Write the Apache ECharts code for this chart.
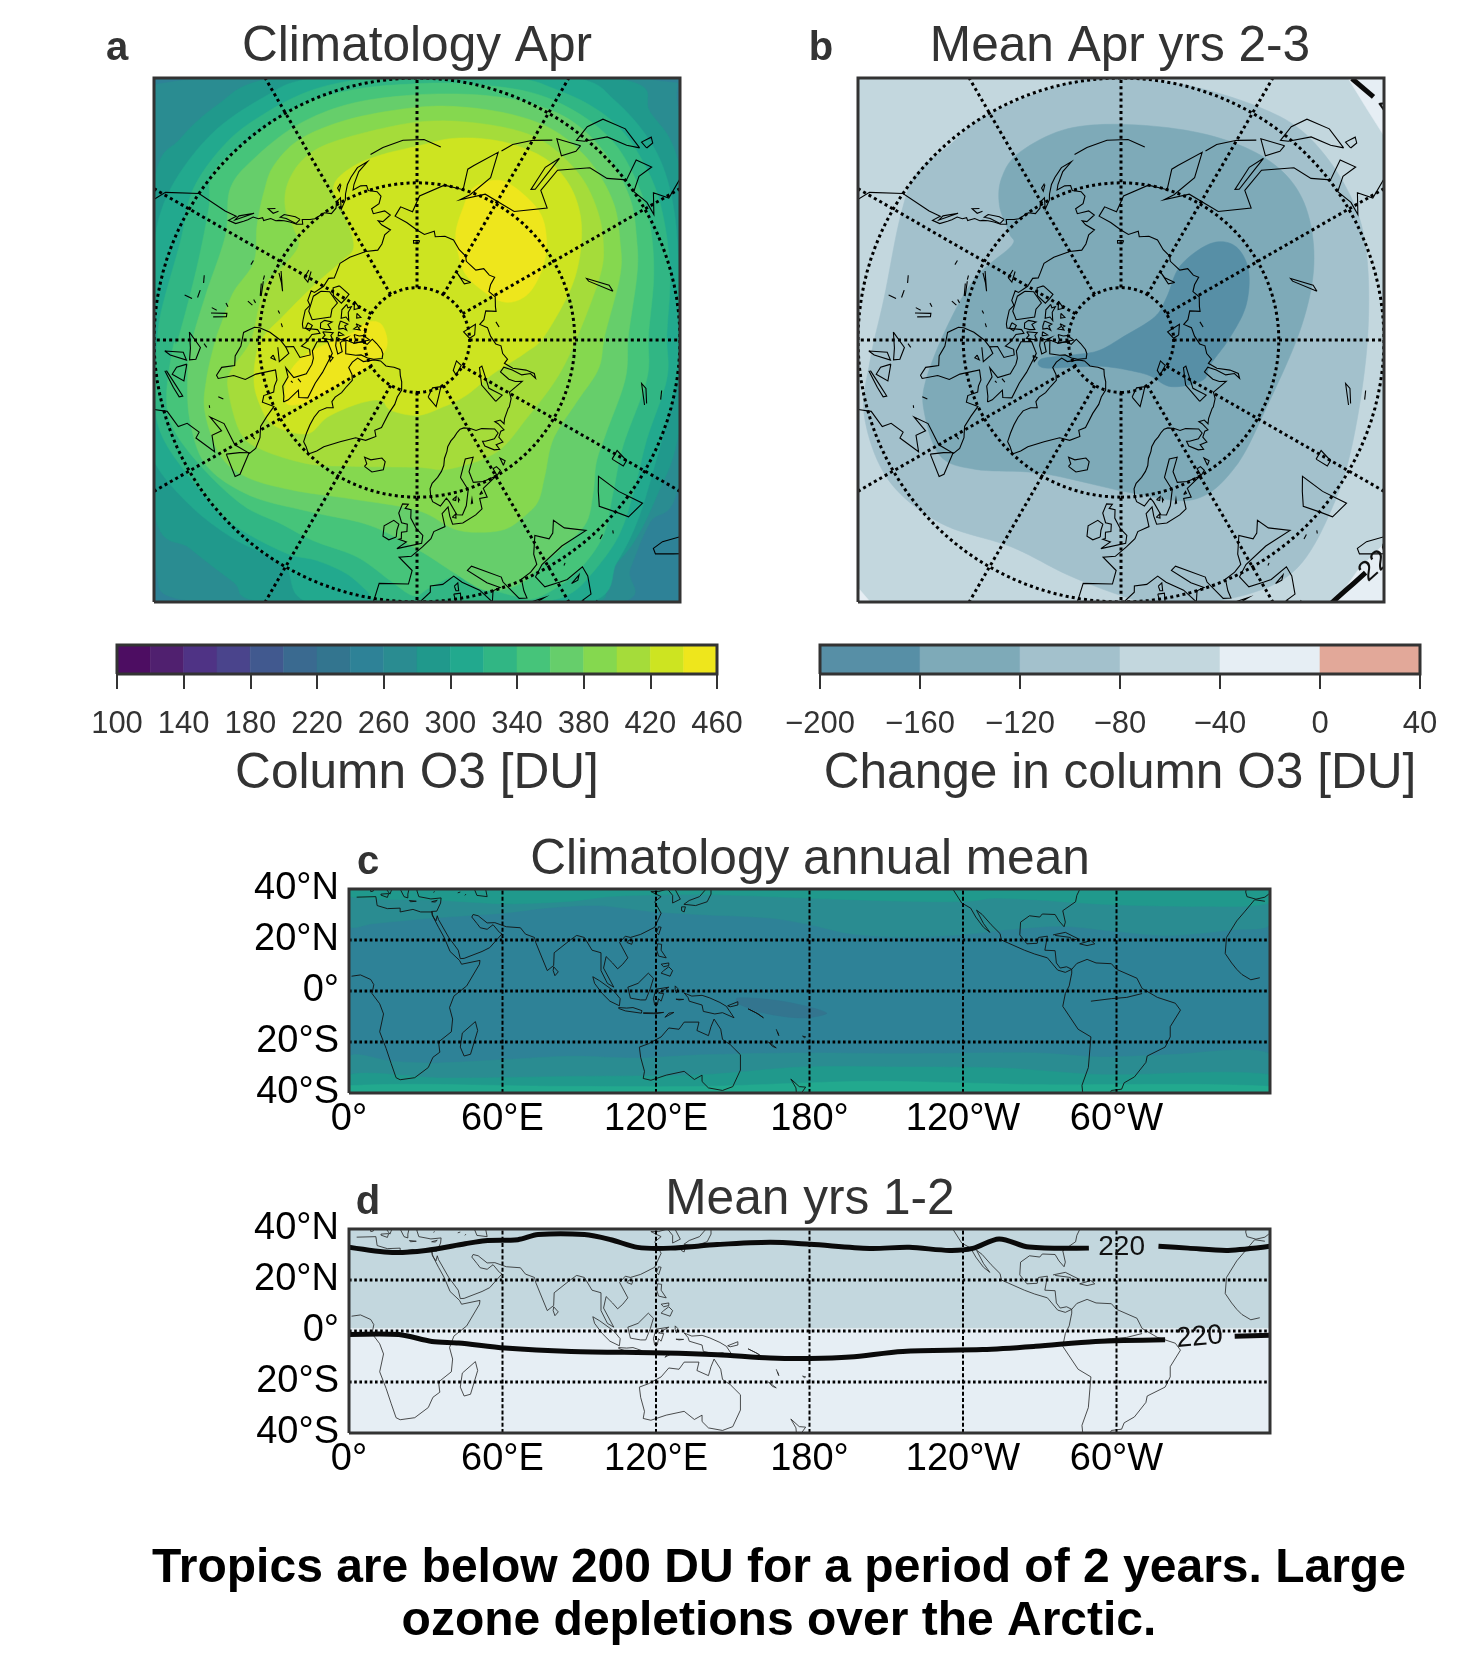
<!DOCTYPE html>
<html><head><meta charset="utf-8">
<style>html,body{margin:0;padding:0;background:#fff}#c{width:1458px;height:1672px}</style>
<script src="https://cdn.jsdelivr.net/npm/echarts@6/dist/echarts.min.js"></script>
</head><body><div id="c"></div>
<script>
// ---------- colour scale steps ----------
const o3Levels=[100,120,140,160,180,200,220,240,260,280,300,320,340,360,380,400,420,440,460];
const o3Colors=['#4d0d62','#50206f','#4f3385','#4a448c','#41598f','#3a6a90','#33758f','#2e8297','#2a8c91','#20998c','#22a98e','#31b684','#46c47a','#66ce6b','#85d84f','#a5dc3a','#cde421','#eee61c'];
const o3Ticks=[100,140,180,220,260,300,340,380,420,460];
const dLevels=[-200,-160,-120,-80,-40,0,40];
const dColors=['#578fa6','#7eaab8','#a3c1cc','#c3d7de','#e6eef4','#e2a899'];
const dTicks=[-200,-160,-120,-80,-40,0,40];
const lonTickLabels=['0°','60°E','120°E','180°','120°W','60°W',''];
const latTickLabels={'40':'40°N','20':'20°N','0':'0°','-20':'20°S','-40':'40°S'};
const polarCircles=[80,60,40];
const polarMeridians=[0,30,60,90,120,150,180,210,240,270,300,330];
const mapLons=[60,120,180,240,300];
const mapLats=[20,0,-20];

// ---------- panel a contours: [east, north] degrees from the pole ----------
const a240=[[-60,60],[60,60],[60,-60],[-60,-60]];
const a260=[[-45,49.5],[-49.9,44.8],[-53,20],[-53,-20],[-49.9,-43],[-42.8,-50],[0,-53],[38,-50.3],[40.5,-43.7],[44.3,-34.8],[49.7,-27.8],[53,8],[49.7,44.1],[44.3,49.7],[0,53]];
const a280=[[-28.5,49.8],[-38,44.8],[-45,38.4],[-49.9,30.8],[-53,0],[-49.9,-33.5],[-43.1,-39.8],[-34.9,-46.2],[-29.8,-50],[0,-53],[32.9,-50.3],[35.4,-45.6],[41.2,-38.6],[45.6,-29.7],[49.7,-18.2],[53,8],[49.7,33.9],[44.3,43.5],[39.2,49.7],[0,53]];
const a300=[[-20.9,49.8],[-28.5,46.7],[-38,40.3],[-45,32],[-48.9,23.8],[-50.4,14.2],[-51.5,0],[-51.5,-15],[-49.9,-23.3],[-43.1,-31.6],[-34.9,-37.9],[-25.3,-43],[-20.9,-50],[0,-53],[32.2,-50.3],[38,-42.4],[41.8,-34.8],[45,-24.6],[50,-5.5],[50.5,5],[50,9.1],[49.1,23.1],[46.9,32.7],[43.1,39.7],[37.3,46],[31.6,49.7],[15,52],[0,52.5]];
const a320=[[0,52],[-11.3,49.8],[-20.2,47.6],[-28.5,43.5],[-36.1,37.8],[-42.5,28.9],[-45,18.7],[-48.5,6],[-49.4,-.4],[-49.8,-11.9],[-48.2,-18.9],[-42.5,-27.1],[-35.5,-34.8],[-25.3,-40.5],[-19,-42.1],[-13.4,-44.6],[-9.6,-47.8],[-7.1,-50],[5,-52],[20,-52],[24.6,-50],[28.4,-48.8],[32,-46],[38,-38],[41.2,-29],[43.7,-18.9],[47.5,-7.4],[47.5,.9],[48.1,12.3],[46.9,23.1],[44.3,31.4],[39.2,39.7],[32.9,44.8],[25.2,48.3],[20.8,49.7],[10,51.5]];
const a340=[[.1,48.9],[-11.3,47.9],[-22.1,44.8],[-31.7,38.4],[-38.7,32],[-39.6,25],[-41.9,13.6],[-45.4,.2],[-46.3,-1],[-47.6,-10.6],[-46.3,-17],[-40.6,-24.6],[-33,-31.6],[-26,-35],[-19.7,-38.3],[-11.4,-41.4],[-5.1,-45.9],[-.7,-48.8],[2.4,-47.3],[7.5,-45.1],[13.2,-47.3],[18.3,-48.8],[22.1,-49.4],[27.1,-46.9],[31,-43.7],[35.4,-37.3],[37.3,-29],[39.2,-20.1],[43.7,-7.4],[44,.9],[45,12.3],[44.3,21.9],[41.8,30.1],[37.3,37.8],[30.3,43.5],[21.4,47.3],[9.4,48.9]];
const a360=[[.1,46.8],[-12.6,45.1],[-22.8,41],[-31,34.6],[-35.5,28.9],[-36.4,20],[-40,9.1],[-42.8,-.4],[-43.6,-7.4],[-43.1,-15.7],[-40,-24],[-31.7,-29.7],[-20.2,-32.8],[-8.9,-35.4],[.5,-40.2],[6.9,-44.3],[13.2,-47.8],[19.6,-46.5],[24,-42.7],[28.4,-38.9],[32.2,-34.8],[33.5,-29],[34.1,-23.3],[36,-17.6],[39.6,-7.4],[40.2,.9],[41.8,12.3],[41.8,18.7],[40.5,27],[36.1,35.2],[29.7,41.6],[22,45],[12.5,46.7]];
const a380=[[.1,44.4],[-12.6,42.2],[-22.1,38.4],[-27.2,33.3],[-29.1,28.2],[-30.4,21.9],[-31,14.9],[-34.9,9.1],[-37.1,3.4],[-38.4,-.4],[-40,-7.4],[-40.3,-13.8],[-37.4,-22],[-32.3,-26.2],[-23.4,-28.7],[-12.6,-30.3],[.1,-32.5],[6.9,-36],[12,-36.7],[17,-36],[20.9,-33.2],[23.1,-30.6],[24.3,-25.9],[25.9,-18.9],[30.3,-11.9],[34.5,-5.5],[35.7,.9],[38.6,12.3],[38.6,18.7],[37.3,26.3],[32.9,34],[26.5,39.7],[18.9,42.8],[9.3,44.4]];
const a400=[[.4,41.6],[-9.4,39.7],[-17.7,37.1],[-22.1,34],[-24.7,29.5],[-25,25],[-23.4,21.2],[-22.5,18],[-25.3,14.2],[-28.8,10.7],[-30.1,6],[-31.7,-.4],[-35.5,-6.1],[-35.8,-10],[-33.6,-17.6],[-29.8,-20.8],[-20.9,-23.6],[-12.6,-24.1],[.1,-24.3],[6.2,-24.6],[15.1,-21.4],[20.8,-15],[26.5,-7.4],[30.3,.2],[34.8,12.3],[35.4,18.7],[34.2,25],[31,31.4],[25.2,37.1],[18.9,40],[9.3,41.6]];
const a420=[[.1,37],[-6.2,35.5],[-11.3,33.6],[-15.1,30.8],[-15.8,28.2],[-14.2,25],[-12,18],[-14.5,14.9],[-19.6,10.4],[-25.3,4.7],[-29.8,-.4],[-31,-7.4],[-29.8,-12.5],[-27.2,-16.3],[-20.9,-17.9],[-17,-14.7],[-11.3,-12.2],[-6.9,-11.5],[-5,-13.4],[.1,-14.4],[4.9,-12.8],[9.3,-10.6],[14.4,-6.5],[20.8,-2.3],[24.3,.9],[29.7,11],[31.3,20.6],[29.7,28.2],[25.2,34],[18.9,37.1],[12.5,38.4],[6.2,38.4]];
const a440east=[[15.1,30.5],[18.9,28.9],[23.3,24.4],[24.6,19.3],[24,14.2],[21.4,9.1],[17.6,7.2],[13.8,8.5],[9.4,12.3],[7.8,16.8],[7.4,20.6],[8.7,25],[10.6,28.9]];
const a440west=[[-9.4,3.4],[-6.9,3.1],[-5.7,.2],[-6.2,-2.3],[-8.8,-4.5],[-12,-7.1],[-17.7,-10.3],[-20.9,-11.9],[-24.7,-12.2],[-25,-8.7],[-23.8,-5.5],[-20.9,-2.6],[-16.4,-.4],[-12,1.5]];
const aBands=[[240,a240],[260,a260],[280,a280],[300,a300],[320,a320],[340,a340],[360,a360],[380,a380],[400,a400],[420,a420],[440,a440east],[440,a440west]];

// ---------- panel b contours ----------
const bMinus80=[[-60,60],[60,60],[60,-60],[-60,-60]];
const bMinus40TR=[[43.1,50.1],[46.5,44.5],[50.1,38.8],[55,55]];
const bMinus40BR=[[50.1,-38.8],[45,-44],[41.2,-49.4],[38.2,-50.5],[55,-55]];
const bMinus40BL=[[-49.8,-47.5],[-47.5,-50.2],[-55,-52]];
const bMinus120=[[-25.3,43],[-10.2,49],[0,49.8],[12.5,48.6],[26.1,44.5],[35.2,39.2],[42.7,29.3],[46.5,18],[46.9,.6],[44.3,-18.3],[40.5,-31.2],[33.7,-43.3],[23.8,-48.6],[8.7,-50.8],[.4,-48.9],[-10.2,-44.8],[-20.8,-39.5],[-34.4,-34.9],[-44.3,-26.6],[-48.8,-14.5],[-47.7,-3.9],[-45,8.2],[-42,23.3],[-39,31.6],[-32.9,36.9]];
const bMinus160=[[-22.7,30.9],[-19.3,35.8],[-10.2,40.3],[1.9,41.1],[16.3,39.2],[27.6,34.6],[34.4,27.1],[36.7,15.7],[34.4,2.9],[27.6,-13],[21.6,-24.4],[14,-30.4],[2.6,-29.3],[-14.8,-25.5],[-27.6,-24.7],[-34.4,-22.1],[-37.4,-13.8],[-37.1,-7.7],[-32.9,2.9],[-27.6,12],[-20.8,18],[-21.2,20.3],[-23.1,25.6]];
const bMinus200=[[17,18.4],[21.6,18],[24.2,13.5],[23.8,6.7],[20.8,.6],[17,-4.7],[15.5,-7.7],[9.5,-8.9],[4.9,-6.6],[-2.6,-5.1],[-7.9,-5.1],[-14.8,-5.3],[-15.1,-3.6],[-8.7,-2.8],[-4.2,-2],[.4,.6],[6.4,4.4],[8.7,8.2],[11.3,14.2]];
const bBands=[[-80,bMinus80],[-40,bMinus40TR],[-40,bMinus40BR],[-40,bMinus40BL],[-120,bMinus120],[-160,bMinus160],[-200,bMinus200]];
const b220TR=[[43.9,49.9],[48,46.4]];
const b220BR=[[40.1,-50.1],[42.7,-47.8],[46.5,-44.4]];
const b220Labels=[[52.5,42.5,-55],[49.3,-42.2,42]];

// ---------- panel c contours: [lon, lat] ----------
const c240=[[0,41],[360,41],[360,-41],[0,-41]];
const c260N=[[0,25.4],[9.1,26.4],[32.4,28.6],[60.9,30.6],[76.5,32.5],[97.3,33.5],[118,31.2],[138.7,29.9],[164.7,28.6],[180.2,26],[195.8,22.5],[216.5,21.2],[239.9,22.1],[258,24.1],[278.8,25.4],[299.5,23.4],[320.3,21.7],[346.2,24.1],[360,26],[362,41],[-2,41]];
const c280N=[[0,37.1],[35,35.6],[60.9,34.2],[86.9,35.2],[102.4,37.1],[138.7,37.8],[177.6,36.5],[216.5,35.2],[242.5,35.2],[252.9,36.5],[297.3,33.9],[333.2,33.2],[360,34.5],[362,42],[-2,42]];
const c260S=[[0,-25.6],[16.9,-27.6],[35,-28.2],[60.9,-26.9],[86.9,-25.6],[112.8,-26.3],[138.7,-25],[177.6,-24.3],[216.5,-24.6],[268.4,-24.3],[294.3,-25.9],[320.3,-25],[360,-24.6],[362,-42],[-2,-42]];
const c280S=[[0,-32.8],[35,-34.1],[86.9,-33.5],[138.7,-32.8],[177.6,-29.8],[216.5,-29.8],[255.4,-30.2],[294.3,-32.8],[360,-32.8],[362,-42],[-2,-42]];
const c300S=[[0,-37.1],[86.9,-37.4],[138.7,-37.4],[203.6,-35.4],[268.4,-36.7],[360,-37.4],[362,-42],[-2,-42]];
const c220Patch=[[151.7,-2.7],[169.9,-4.1],[186.7,-8.6],[177.6,-10.6],[162.1,-8.6],[151.7,-4.7]];
const cBands=[[240,c240],[260,c260N],[280,c280N],[260,c260S],[280,c280S],[300,c300S],[220,c220Patch]];

// ---------- panel d ----------
const dNorth=[[-2,41],[362,41],[362,1],[-2,1]];
const dSouth=[[-2,1],[362,1],[362,-41],[-2,-41]];
const dBands=[[-80,dNorth],[-40,dSouth]];
const d220North=[[0,32.9],[16.9,30.8],[30,31.6],[45.4,34.2],[53.2,35.4],[66,35.8],[73.9,37.8],[92,37.8],[102.4,35.8],[112.8,32.8],[125.7,32.5],[143.9,33.9],[164.6,34.8],[180.2,34],[203.5,32.4],[219,32.8],[234.7,31.6],[243.8,32.4],[254.1,36.1],[265.8,32.9],[289.2,32.5]];
const d220North2=[[316.4,33.2],[328,32.5],[343.6,31.6],[360,33.2]];
const d220South=[[0,-1.4],[19.5,-1.4],[32.4,-4.1],[42.8,-4.7],[61,-6.7],[86.9,-8],[123.2,-8.6],[143.9,-9.3],[164.7,-10.6],[180.2,-10.8],[195.8,-10.2],[216.5,-8],[247.7,-7.3],[268.4,-6],[291.8,-4.1],[319,-3.4]];
const d220South2=[[346.2,-2.1],[360,-1.7]];
const d220Labels=[[302,33,0],[332.5,-2.5,5]];

// ---------- coastlines, [lon, lat] ----------
const africa=[[-6,35.8],[-10,31],[-13,27.5],[-17,21],[-17.5,14.7],[-15,11],[-13,8.5],[-11,6.5],[-7.5,4.4],[-4,5.2],[1,5.8],[4.5,6.3],[8.5,4.5],[9.7,2.5],[9,-1],[12,-5],[13.5,-9],[12,-16],[14.5,-22.5],[16.5,-28.5],[18.4,-34],[20,-34.8],[25.7,-34],[31,-30],[32.8,-26],[35.5,-24],[35,-20],[40,-16],[40.5,-11],[39.3,-6.5],[41,-2],[46,2],[51,10.5],[51.2,12],[44,10.5],[43.2,12],[39.5,15.5],[37.2,21],[35,25],[32.5,29.8],[32.5,31],[28,31],[25,32],[20,31],[20,32.5],[15,32.3],[11,33.5],[10.5,37],[3,36.8],[-2,35.2],[-6,35.8]];
const madagascar=[[49.4,-12],[50.3,-15.5],[47.5,-24.8],[45,-25.5],[43.5,-22],[44.3,-16.5],[49.4,-12]];
const eurasia=[[-5.5,36],[-9,37],[-9.5,38.8],[-8.8,43],[-2,43.4],[-1.2,46],[-4.7,48.4],[-1.5,48.7],[1.5,50.5],[4,52],[5,53.3],[8.5,54],[8.2,56.5],[10.5,57.6],[10.5,55.8],[10.9,54.2],[14,54],[18.5,54.8],[21,55.5],[21.5,57.5],[24,57.2],[24,59],[30,60],[25,60.2],[21.5,60.8],[21.5,63],[25.5,65.2],[22,65.5],[17.5,62.5],[18.8,59.8],[16.5,57],[14.5,55.5],[12.8,55.8],[11.3,58.5],[10.5,59.3],[8,58],[5.5,59],[5,60],[5,61.5],[6,62.5],[8.5,63.5],[10.5,64.5],[12,65.5],[13,66.8],[15,68],[16,68.8],[18.5,69.7],[21,70.2],[23.5,70.8],[25.7,71.1],[28,71],[31,70.3],[33,69.4],[36,69.1],[41,67.5],[41,66.5],[38,66.1],[34,66.7],[32.8,67],[32.5,66],[35,64.4],[37,63.9],[37,65],[40,64.6],[40,65.8],[42.5,66.4],[44,66.2],[44,67.8],[43.5,68.5],[46,68],[46,67],[48,67.6],[53,68.3],[54,68.3],[58,68.9],[60.5,69.8],[64.5,69.2],[68.5,68.5],[67,69.7],[66.8,71],[69,73],[72.5,72.7],[72.5,71],[71.5,69],[73.5,67.5],[72,66.3],[74,66.8],[74.5,68.5],[73.5,71],[75,72.8],[78,72.4],[81,73.5],[86,74],[87,75],[93,76],[100,76.4],[104,77.7],[107,76.7],[113,75.8],[110,74],[113,73.8],[119,73],[124,73.5],[127,72.5],[129,71],[132,71.5],[137,71.4],[140,72.6],[148,72.3],[150,71.5],[155,71],[160,69.7],[165,69.5],[170,70],[171,69],[176,69.8],[180,69],[-175,67.5],[-170,66],[-173,64.4],[-178,65.5],[179,62.5],[170,60],[163,60],[163.5,56],[162,55],[156.7,51],[155.7,56],[160,60.5],[163,62],[155,59.3],[143,59.3],[135.5,54.7],[140.5,53],[140.5,48],[135,43.5],[130.5,42.5],[127.5,39.8],[129.5,36],[126.5,34.5],[126.5,37.5],[124.5,40],[121,39],[118,39],[122,37],[119.5,35],[122,30.5],[119.5,25],[114,22.2],[110,21],[108,21.5],[105.8,19],[109,13],[107,10.5],[105,8.7],[103,11],[100.5,13.5],[99.5,9],[103.5,1.5],[101,3],[98.5,8],[98.5,15],[95,16],[92,21],[89,21.8],[86.5,20],[80.2,15],[80,10],[77.5,8],[73,19],[72.5,21],[69,22.3],[67,24.8],[61.5,25.2],[57,26.8],[54,26.7],[50.5,29.5],[48.5,30],[48,29],[50,26.5],[51.3,24.8],[54,24.2],[56.3,26],[58.8,23],[59.8,22.4],[55,17],[52,15.5],[45,12.8],[43.5,12.7],[42.7,16],[39,21],[35,28],[34.5,29.5],[34,27.5],[33,29],[32.6,30],[32.3,31.2],[34.3,31.3],[35.8,34.5],[36,36.5],[32,36.1],[30.5,36.4],[27.3,37],[26.5,39.5],[29,41],[35,42],[41.5,41.5],[38,44.5],[37,46.9],[35,45],[33.5,44.5],[31,46.5],[28.5,43.5],[28,41.5],[26,40.7],[23.5,40.2],[23,38],[23,36.5],[21.5,37],[19.5,41],[19.5,42],[13.5,45.6],[12.3,45],[16,41.8],[18.5,40.2],[16.8,40],[16,38],[14,40.8],[10.5,43],[8.8,44.4],[6,43.1],[3.1,43],[3,41.8],[0,39.5],[-.5,38],[-2,36.8],[-5.5,36]];
const caspian=[[50,45],[53,46.8],[53,42],[54,37],[50,37.5],[49,40],[47.5,43],[50,45]];
const baikal=[[104,51.6],[109,55.5],[110,55.7],[106,52],[104,51.6]];
const aral=[[58.5,46.5],[61,46.5],[60,44],[58.5,44],[58.5,46.5]];
const balkhash=[[74,45],[79,46.5],[78,45.5],[74.5,44.7]];
const ladoga=[[30.5,60],[32.5,60.5],[32,61.5],[30.5,61.5],[30.5,60]];
const onega=[[34.5,61],[36,61.5],[35,62.5],[34.5,61]];
const vanern=[[12.5,58.8],[14,59.2],[13.5,58.5],[12.5,58.8]];
const vattern=[[14.3,58],[14.6,58.8],[14.9,58.3]];
const gotland=[[18.2,57],[19,57.9],[18.7,57]];
const saaremaa=[[22,58.2],[23,58.6],[23,58.2],[22,58.2]];
const zealand=[[11.2,55.5],[12.5,56],[12.3,55.2],[11.2,55.5]];
const britain=[[-5.5,50],[1.3,51.2],[1.7,52.7],[-.2,54],[-2,56],[-2,57.6],[-4,57.8],[-3,58.6],[-5,58.6],[-6,56.8],[-4.8,55],[-3,54.8],[-3,53.4],[-4.6,53.2],[-4.5,52],[-5.2,51.8],[-3,51.4],[-5.5,50]];
const ireland=[[-6,52.2],[-6,53.5],[-5.6,54.7],[-7.3,55.3],[-10,54],[-9.8,52],[-8,51.5],[-6,52.2]];
const iceland=[[-22.5,63.9],[-18.8,63.4],[-14.5,64.4],[-14.6,66],[-16.5,66.5],[-21,65.5],[-24,65.5],[-22,64.5],[-22.5,63.9]];
const svalbard=[[11,78.9],[16,76.8],[21,78.5],[27,80],[18,80.4],[11,78.9]];
const novaya=[[52,71],[57,70.7],[56,73.5],[68,76.7],[66,77],[55,75],[52,71]];
const franzJosef=[[48,80],[60,80.3],[62,81.5],[50,81],[48,80]];
const severnaya=[[95,79],[105,78.5],[100,81],[92,80],[95,79]];
const newSiberia=[[137,75],[145,75.5],[150,75],[140,76],[137,75]];
const wrangel=[[178.5,71],[-178,71],[-178,71.5],[179,71.5],[178.5,71]];
const sicily=[[12.5,38],[15.5,38.2],[15,36.7],[12.5,37.6],[12.5,38]];
const sardinia=[[8.2,41],[9.7,41],[9.5,39.2],[8.5,39],[8.2,41]];
const corsica=[[8.6,42.5],[9.5,43],[9.4,41.5],[8.8,41.6],[8.6,42.5]];
const crete=[[23.6,35.5],[26.3,35.2],[24,35],[23.6,35.5]];
const cyprus=[[32.3,35],[34.5,35.6],[33.7,34.9],[32.3,35]];
const honshu=[[130.9,34],[135.5,33.5],[140,35],[141.5,38],[141.5,41.3],[140,40.5],[137,37],[133,35.5],[130.9,34]];
const hokkaido=[[140,41.6],[145.3,43.3],[142,45.4],[140,43],[140,41.6]];
const kyushu=[[130,33],[131.5,33],[131,31],[130,31.5],[130,33]];
const sakhalin=[[142,46],[143.5,49],[143,54],[142,53.5],[142,49],[142,46]];
const kurils=[[146,44],[150,46],[154,48.5],[156,50.5]];
const taiwan=[[120.2,23],[121,22],[122,25],[121,25.2],[120.2,23]];
const hainan=[[108.7,19],[110.5,18.3],[111,19.8],[109.5,20],[108.7,19]];
const luzon=[[120.3,16],[120.6,18.5],[122.2,18.3],[122,16],[124,13],[121,13.7],[120.3,16]];
const mindanao=[[122,7],[125.5,5.8],[126.5,8],[125,9.5],[123,8],[122,7]];
const visayas=[[122,10.5],[125,11],[125,10],[123,9.5],[122,10.5]];
const sumatra=[[95.3,5.6],[98,4],[103.5,0],[106,-3],[105.7,-5.8],[102,-4],[99,-1],[96,3],[95.3,5.6]];
const java=[[105.3,-6.5],[108.5,-6.7],[111,-6.5],[114.5,-7.7],[114.3,-8.7],[108,-7.8],[105.3,-6.8]];
const borneo=[[109,1.5],[113,3],[117,7],[119,5],[117.8,1],[116,-3.5],[114,-3.5],[110,-2.8],[109,1.5]];
const sulawesi=[[119.5,-5.5],[119,-3],[120,.7],[125,1.5],[121,-.8],[123,-1],[122,-4],[121,-3],[120.5,-5.5],[119.5,-5.5]];
const halmahera=[[127.5,2],[128.5,1],[128,-.8],[127.5,.5],[127.5,2]];
const seram=[[127.8,-3.2],[130.8,-3.3],[129,-3.5],[127.8,-3.2]];
const newGuinea=[[131,-.8],[134,-2],[138,-1.7],[141,-2.7],[145,-4.5],[147.5,-6],[150.5,-10.5],[146,-8.5],[143,-9],[138.5,-8],[138,-5.5],[133,-4],[132.5,-2.5],[131,-.8]];
const timor=[[123.5,-10.3],[127,-8.4],[125,-8.7],[123.5,-10.3]];
const flores=[[115,-8.5],[119,-8.6],[123,-8.4],[120,-8.9],[115,-8.8]];
const newBritain=[[148,-5.8],[152,-4.2],[152,-5.5],[149,-6.2],[148,-5.8]];
const solomon=[[156,-7],[160,-9],[162,-10.5],[159,-8.5],[156,-7]];
const vanuatu=[[167,-15],[168,-17.5],[167.5,-16]];
const newCaledonia=[[164,-20],[167,-22.3],[165.5,-21.7],[164,-20]];
const fiji=[[177.3,-17.7],[178.5,-18],[178,-18.3],[177.3,-17.7]];
const newZealand=[[172.7,-34.5],[176,-37.5],[178.5,-37.7],[176.5,-40.5],[175,-41.5],[174.7,-38],[172.7,-34.5]];
const australia=[[113.5,-22],[114,-26],[115.5,-31.5],[115,-34.3],[118,-35],[124,-33],[131,-31.5],[135,-34.7],[138,-33],[138,-35.5],[140.5,-38],[146,-39],[150,-37.5],[153,-31],[153,-25],[149,-21],[146,-19],[145.3,-15],[142.7,-11],[141.5,-14],[140.5,-17.5],[136,-15.5],[136.8,-12.2],[131,-12.2],[129,-15],[125,-14.5],[122,-18],[117,-20.7],[113.5,-22]];
const sriLanka=[[80,9.5],[81.8,7.5],[80.5,6],[79.8,8],[80,9.5]];
const northAmerica=[[-77.5,8.5],[-80,7.3],[-83,8.2],[-87,13],[-92,14.5],[-96,16],[-105,20],[-105.5,22.5],[-109,26],[-112.5,30],[-114.7,31.7],[-112,26.5],[-109.5,23],[-112,25],[-115,29],[-117,32.5],[-120.5,34.5],[-124,40],[-124,46],[-124.5,48.3],[-122.5,47.5],[-122.8,49],[-124.5,50],[-125.5,50.5],[-127,51],[-127.5,52],[-128.5,52.5],[-128,53],[-129.8,53.8],[-130.3,54.8],[-131,55.2],[-132,56],[-133,57],[-134,58.2],[-135.5,59],[-136.5,58.3],[-138.5,59.3],[-140,59.8],[-144,60],[-146,60.9],[-148.5,60.5],[-150,59.5],[-151.8,59.2],[-150,61.2],[-153,60],[-154,59],[-156,57.5],[-158,56.5],[-161,55.2],[-164.5,54.7],[-161,56],[-158,58],[-157,58.9],[-160,58.7],[-162,59],[-162,60],[-165,60.7],[-166,61.7],[-164.5,63],[-161,63.5],[-161,64.5],[-166,64.6],[-168,65.6],[-164,66.5],[-162,66.1],[-163,67],[-166.5,68.4],[-163,69],[-160,70.5],[-156.5,71.3],[-150,70.5],[-141,69.7],[-135,69.3],[-130,70],[-127,70.3],[-125,69.5],[-120,69.5],[-115,68.5],[-115,67.8],[-110,67.9],[-108,68.6],[-105,68],[-100,68],[-98,68],[-96,68.2],[-96,71],[-94,71.5],[-93,70],[-89,69],[-87,68],[-85,69.5],[-82,69.5],[-81.5,67.5],[-87,66.5],[-87,65],[-90,64],[-93,62],[-94.5,60],[-94.5,59],[-92.5,57],[-88,56.5],[-85,55.3],[-82,55],[-82,52.5],[-80,51.3],[-79,51.5],[-79,54.5],[-77,56.5],[-78,58.7],[-78,62.5],[-74,62.3],[-72,61.5],[-70,61],[-70,59],[-68,58.3],[-65,60],[-63,58],[-61,56],[-58,54.8],[-56,53],[-55.8,51.5],[-60,50],[-66.5,50],[-69.5,48],[-65,49],[-65,47],[-61,46],[-66,44],[-67,45],[-70,43.5],[-70,41.7],[-74,40.6],[-75.5,37.5],[-76,35],[-81,31.5],[-80,27],[-80.5,25.2],[-82.5,27.5],[-84,30],[-89,30.2],[-90,29],[-94,29.5],[-97.5,27],[-97.8,22],[-95,18.5],[-91,18.7],[-90.5,21],[-87,21.5],[-88,16],[-84,15.8],[-83.5,11],[-82,9],[-79.5,9.5],[-77.5,8.5]];
const southAmerica=[[-77.5,8.5],[-75.5,10.8],[-71.5,12.4],[-68,11],[-62,10.7],[-60,8.5],[-52,5],[-50,1],[-44,-2.5],[-37,-4.8],[-35,-7.5],[-39,-14],[-39,-18],[-41,-22],[-48,-25.5],[-48.5,-28],[-53,-33.7],[-57,-36],[-58,-38.5],[-62,-39],[-63,-41],[-66,-45],[-73,-42],[-73.5,-37],[-71,-30],[-70,-18],[-75,-15],[-81,-6],[-80,-1],[-78.5,2],[-77.5,7],[-77.5,8.5]];
const amazon=[[-50,-1],[-56,-2.5],[-62,-3],[-70,-4]];
const cuba=[[-84.8,22],[-80,23],[-75,20.5],[-77.5,19.8],[-78,21],[-84,21.8]];
const hispaniola=[[-74.4,18.5],[-70,19.8],[-68.5,18.5],[-71.5,17.8],[-74.4,18.5]];
const greenland=[[-43.5,60],[-46,60.7],[-48,61],[-49.8,62.5],[-51.5,64],[-53,65.5],[-54,67],[-53,68.5],[-51,69.5],[-54,70],[-55,71],[-55,72.5],[-56.5,74],[-58,75.5],[-62,76],[-68,76],[-71,77],[-73,78.2],[-68,79],[-65,81],[-60,82],[-50,82.3],[-45,82.8],[-40,83.2],[-30,83.5],[-25,82.5],[-20,81.5],[-17,80],[-19,78.5],[-19,77],[-21,75],[-22,72],[-25,71],[-23,70],[-27,68.5],[-32,68],[-37,65.7],[-41,63],[-42,61.5],[-43.5,60]];
const baffin=[[-65,62],[-67,62.5],[-71,63],[-74,64.5],[-78,64.5],[-73,65.5],[-73,68],[-77,69.5],[-80,70],[-84,70],[-89,71],[-89,73],[-81,73.7],[-77,72.8],[-71,71],[-67,69],[-62,66.5],[-64,65],[-67,65.5],[-65,63],[-65,62]];
const victoria=[[-117,69.5],[-113,68.6],[-105,68.7],[-101,69.7],[-103,71.5],[-105,73],[-110,72.8],[-115,73.3],[-119,71],[-117,69.5]];
const banks=[[-125,72],[-122,71.2],[-118,72],[-116,74],[-120,74.3],[-124,74.4],[-125,72]];
const ellesmere=[[-90,76.5],[-85,76.4],[-79,76.2],[-76,78],[-75,79],[-70,80],[-66,81],[-62,82.5],[-68,83],[-75,83],[-85,82.3],[-91,81.5],[-85,80.5],[-88,79.5],[-87,78],[-90,76.5]];
const devon=[[-92,74.7],[-86,74.5],[-80,74.7],[-81,75.6],[-88,75.4],[-92,76.7],[-90,75.6],[-92,74.7]];
const axelHeiberg=[[-95,78],[-90,78.3],[-87,78],[-90,81],[-93,80.3],[-95,80],[-94,79],[-95,78]];
const melville=[[-117,75],[-112,74.6],[-106,75],[-108,75.8],[-106,76.5],[-112,75.9],[-117,76],[-115,75.5],[-117,75]];
const bathurst=[[-104,75],[-100,74.9],[-98,75],[-99,75.8],[-98,76.5],[-101,76],[-103,76.5],[-104,75]];
const ringnes=[[-105,78],[-103,78.4],[-100,77.8],[-100,79],[-102,78.6],[-104,79],[-105,78]];
const princeWales=[[-102,72],[-100,71.4],[-97,71.5],[-96.5,72.5],[-97,73.5],[-100,72.8],[-102,73.5],[-102,72]];
const somerset=[[-95,72],[-93,72.5],[-91,72],[-90,74],[-93,73.6],[-95,74],[-95,72]];
const princePatrick=[[-122,76],[-116,76.7],[-119,77.5],[-122,76]];
const mackenzieKing=[[-114,77.5],[-110,77.8],[-112,78.5],[-114,77.5]];
const cornwallis=[[-96,75],[-93,75],[-94,76],[-96,75]];
const bylot=[[-80,73],[-76,73],[-78,73.7],[-80,73]];
const kingWilliam=[[-99,69],[-96,68.7],[-95,69.5],[-98,69.9],[-99,69]];
const meighen=[[-100,79.9],[-98,80],[-99,80.2],[-100,79.9]];
const coats=[[-84,62.5],[-82,62.8],[-83,62],[-84,62.5]];
const southampton=[[-87,63.5],[-81,63.5],[-84,65.5],[-87,65]];
const newfoundland=[[-59,47.7],[-53,46.7],[-52.7,47.7],[-56,51.5],[-57.5,50],[-59,47.7]];
const vancouverIsland=[[-128,50.7],[-123.5,48.5],[-125,48.7],[-128,50.7]];
const haidaGwaii=[[-133,54],[-131.5,53.5],[-131.5,52.2],[-133,53.2]];
const alexander=[[-136,58],[-134,58],[-133,56],[-132,55],[-133.5,55.2],[-135.5,57],[-136,58]];
const aleutians=[[-166,53.5],[-170,52.7],[-176,51.8],[178,51.7],[173,52.9]];
const kodiak=[[-154,57],[-152.5,58],[-152.5,57.3],[-154,56.8]];
const greatBear=[[-123,66],[-118,66.5],[-119,65.5],[-123,65.5]];
const greatSlave=[[-117,61],[-110,62.8],[-113,62],[-116,60.8]];
const winnipeg=[[-97.5,50.5],[-98,53.5],[-97,53.5],[-96.5,51]];
const athabasca=[[-111,58.7],[-106,59.2],[-106,59],[-110,58.5]];
const superior=[[-92,46.7],[-88,48.8],[-85,47.8],[-85,46.6],[-88,46.9],[-92,46.7]];
const michigan=[[-87.5,42],[-87,45.5],[-85,46],[-86.5,43],[-87.5,42]];
const huron=[[-84,46],[-80,45],[-82,43],[-83.5,44],[-84,46]];
const erieOntario=[[-83,41.7],[-79,42.8],[-76.5,43.5],[-76.5,44.2],[-79.5,43.3],[-83,42]];
const lakeFortPeck=[[-107,47.7],[-105,48]];
const lakeOahe=[[-101,45],[-100.5,46.5]];
const lakeSakakawea=[[-103,47.7],[-101,47.5]];
const lakeReindeer=[[-103,57],[-102,58]];
const lakeWollaston=[[-104,58],[-103,58.5]];
const lakeNipigon=[[-89,49.5],[-88,50]];
const lakeManitoba=[[-99,50.5],[-98.5,51.5]];
const lakeCedar=[[-101,53],[-100,53.5]];
const lakeDubawnt=[[-102,63],[-101,63.4]];
const lakeBaker=[[-97,64],[-95.5,64.3]];
const lakeNettilling=[[-72,66.2],[-70,66.5]];
const lakeAmadjuak=[[-72,64.8],[-71,65]];
const lakeClaire=[[-113,58.5],[-111.5,58.6]];
const lakeLesserSlave=[[-116,55.4],[-114.5,55.3]];
const lakeMistassini=[[-74,50.7],[-73,51.5]];
const lakeSaintJohn=[[-72.5,48.6],[-71.8,48.5]];
const lakeMelville=[[-60,53.7],[-58.5,53.8]];
const lakeTuz=[[33,38.7],[33.5,39]];
const lakeVan=[[42.5,38.5],[43.5,38.8]];
const lakeUrmia=[[45.3,37.5],[45.7,38]];
const lakeIssyk=[[76.2,42.3],[78.3,42.5]];
const lakeTaymyr=[[99,74.2],[103,74.6]];
const coastlines=[africa,madagascar,eurasia,caspian,baikal,aral,balkhash,ladoga,onega,vanern,vattern,gotland,saaremaa,zealand,britain,ireland,iceland,svalbard,novaya,franzJosef,severnaya,newSiberia,wrangel,sicily,sardinia,corsica,crete,cyprus,honshu,hokkaido,kyushu,sakhalin,kurils,taiwan,hainan,luzon,mindanao,visayas,sumatra,java,borneo,sulawesi,halmahera,seram,newGuinea,timor,flores,newBritain,solomon,vanuatu,newCaledonia,fiji,newZealand,australia,sriLanka,northAmerica,southAmerica,amazon,cuba,hispaniola,greenland,baffin,victoria,banks,ellesmere,devon,axelHeiberg,melville,bathurst,ringnes,princeWales,somerset,princePatrick,mackenzieKing,cornwallis,bylot,kingWilliam,meighen,coats,southampton,newfoundland,vancouverIsland,haidaGwaii,alexander,aleutians,kodiak,greatBear,greatSlave,winnipeg,athabasca,superior,michigan,huron,erieOntario,lakeFortPeck,lakeOahe,lakeSakakawea,lakeReindeer,lakeWollaston,lakeNipigon,lakeManitoba,lakeCedar,lakeDubawnt,lakeBaker,lakeNettilling,lakeAmadjuak,lakeClaire,lakeLesserSlave,lakeMistassini,lakeSaintJohn,lakeMelville,lakeTuz,lakeVan,lakeUrmia,lakeIssyk,lakeTaymyr];

// ---------- projections (data -> axis units) ----------
const D2R=Math.PI/180;
const polar=p=>{const r=90-p[1],t=p[0]*D2R;return [r*Math.sin(t),-r*Math.cos(t)];};
const plate=p=>[(p[0]+360)%360,p[1]];
function splitWrap(pts){const out=[];let cur=[];pts.forEach((q,i)=>{if(i&&Math.abs(q[0]-pts[i-1][0])>180){out.push(cur);cur=[];}cur.push(q);});out.push(cur);return out;}

// draws a closed contour as a rounded curve through its read points
function roundedRing(pts){
  const n=pts.length,out=[];
  for(let i=0;i<n;i++){
    const a=pts[(i-1+n)%n],b=pts[i],c=pts[(i+1)%n],d=pts[(i+2)%n];
    for(let k=0;k<10;k++){
      const t=k/10,t2=t*t,t3=t2*t;
      out.push([0,1].map(j=>.5*(2*b[j]+(c[j]-a[j])*t+(2*a[j]-5*b[j]+4*c[j]-d[j])*t2+(3*b[j]-a[j]-3*c[j]+d[j])*t3)));
    }
  }
  return out;
}
function lineEl(pts,api,style){
  return {type:'polyline',shape:{points:pts.map(p=>api.coord(p))},style:Object.assign({fill:null,stroke:'#000'},style),silent:true};
}
const colorOf=(levels,colors)=>v=>colors[levels.indexOf(v)];
const o3Color=colorOf(o3Levels,o3Colors), dColor=colorOf(dLevels,dColors);

function bandSeries(g,bands,colorFn,smooth){
  return {type:'custom',xAxisIndex:g,yAxisIndex:g,clip:true,z:2,silent:true,
    data:bands.map((b,i)=>[i]),
    renderItem(params,api){
      const b=bands[params.dataIndex];
      const sharp=b[1].length<=5;
      const px=b[1].map(p=>api.coord(p));
      const useRound=smooth==='round'&&!sharp;
      return {type:'polygon',shape:{points:useRound?roundedRing(px):px,smooth:(sharp||useRound)?0:smooth},style:{fill:colorFn(b[0]),stroke:colorFn(b[0]),lineWidth:.5},silent:true};
    }};
}
function coastSeries(g,proj,width,stroke){
  return {type:'custom',xAxisIndex:g,yAxisIndex:g,clip:true,z:3,silent:true,
    data:coastlines.map((c,i)=>[i]),
    renderItem(params,api){
      const pts=coastlines[params.dataIndex].map(proj);
      return {type:'group',children:splitWrap2(pts,proj===plate).map(s=>lineEl(s,api,{stroke:stroke,lineWidth:width}))};
    }};
}
function splitWrap2(pts,wrap){return wrap?splitWrap(pts):[pts];}
function polarGrid(g){
  const ring=[];for(let l=0;l<=360;l+=3)ring.push(l);
  const rings=polarCircles.map(lat=>ring.map(l=>polar([l,lat])));
  const spokes=polarMeridians.map(l=>[polar([l,polarCircles[0]]),polar([l,15])]);
  const all=rings.concat(spokes);
  return {type:'custom',xAxisIndex:g,yAxisIndex:g,clip:true,z:4,silent:true,data:all.map((a,i)=>[i]),
    renderItem(params,api){return lineEl(all[params.dataIndex],api,{lineWidth:3,lineDash:[3,3.2],lineCap:'butt'});}};
}
function mapGrid(g){
  const h=mapLats.map(l=>[[0,l],[360,l]]), v=mapLons.map(l=>[[l,-40],[l,40]]);
  return {type:'custom',xAxisIndex:g,yAxisIndex:g,clip:true,z:4,silent:true,data:h.concat(v).map((a,i)=>[i]),
    renderItem(params,api){const i=params.dataIndex;
      return i<h.length?lineEl(h[i],api,{lineWidth:3,lineDash:[2.6,2.6]}):lineEl(v[i-h.length],api,{lineWidth:2,lineDash:[4,2.2]});}};
}
function contourSeries(g,lines,labels){
  return {type:'custom',xAxisIndex:g,yAxisIndex:g,clip:true,z:5,silent:true,data:lines.concat(labels).map((a,i)=>[i]),
    renderItem(params,api){const i=params.dataIndex;
      if(i<lines.length)return {type:'polyline',shape:{points:lines[i].map(p=>api.coord(p)),smooth:.3},style:{fill:null,stroke:'#0a0a0a',lineWidth:5},silent:true};
      const L=labels[i-lines.length],c=api.coord(L);
      return {type:'text',x:c[0],y:c[1],rotation:L[2]*D2R,style:{text:'220',fontSize:28,fontFamily:'Liberation Sans',fill:'#111',align:'center',verticalAlign:'middle'},silent:true};
    }};
}
function frameSeries(g,box){
  const pts=[[box[0],box[2]],[box[1],box[2]],[box[1],box[3]],[box[0],box[3]],[box[0],box[2]]];
  return {type:'custom',xAxisIndex:g,yAxisIndex:g,clip:false,z:6,silent:true,data:[[0]],
    renderItem(p,api){return lineEl(pts,api,{stroke:'#333',lineWidth:3,lineJoin:'miter'});}};
}
function barSeries(g,levels,colors){
  const data=colors.map((c,i)=>[levels[i],levels[i+1]]);
  return {type:'custom',xAxisIndex:g,yAxisIndex:g,clip:false,z:2,silent:true,data:data,encode:{x:[0,1]},
    renderItem(p,api){const a=api.coord([api.value(0),1]),b=api.coord([api.value(1),0]);
      return {type:'rect',shape:{x:a[0],y:a[1],width:b[0]-a[0],height:b[1]-a[1]},style:{fill:colors[p.dataIndex],stroke:colors[p.dataIndex],lineWidth:.6},silent:true};}};
}

const G=[
 {left:154,top:78,width:526,height:524},
 {left:858,top:78,width:526,height:524},
 {left:349,top:889,width:921,height:204},
 {left:349,top:1229,width:921,height:204},
 {left:117,top:645,width:600,height:29},
 {left:820,top:645,width:600,height:29}
];
const hidden=(min,max,i)=>({type:'value',gridIndex:i,min,max,show:false,splitLine:{show:false}});
const mapX=i=>({type:'value',gridIndex:i,min:0,max:360,interval:60,splitLine:{show:false},axisLine:{show:false},axisTick:{show:false},
  axisLabel:{margin:8,color:'#000',fontSize:38,fontFamily:'Liberation Sans',showMinLabel:true,showMaxLabel:false,formatter:v=>lonTickLabels[v/60]}});
const mapY=i=>({type:'value',gridIndex:i,min:-40,max:40,interval:20,splitLine:{show:false},axisLine:{show:false},axisTick:{show:false},
  axisLabel:{margin:10,color:'#000',fontSize:38,fontFamily:'Liberation Sans',formatter:v=>latTickLabels[v]}});
const barX=(i,levels,ticks,fmt)=>({type:'value',gridIndex:i,min:levels[0],max:levels[levels.length-1],position:'bottom',splitLine:{show:false},
  axisLine:{show:false},
  axisTick:{show:true,length:15,lineStyle:{color:'#333',width:2},customValues:ticks},
  axisLabel:{margin:35,color:'#333',fontSize:31,fontFamily:'Liberation Sans',customValues:ticks,formatter:fmt,showMinLabel:true,showMaxLabel:true,hideOverlap:false}});

const T=(text,x,y,size,weight,color)=>({text,left:x,top:y,textAlign:'center',textStyle:{fontSize:size,fontWeight:weight,color:color,fontFamily:'Liberation Sans'},padding:0});

const option={
 animation:false,backgroundColor:'#fff',
 title:[
  T('Climatology Apr',417,22,49.6,'normal','#333'),
  T('Mean Apr yrs 2-3',1120,22,49.6,'normal','#333'),
  T('a',117,29,40,'bold','#333'),
  T('b',821,29,40,'bold','#333'),
  T('Climatology annual mean',810,835,49.6,'normal','#333'),
  T('c',368,843,40,'bold','#333'),
  T('Mean yrs 1-2',810,1175,49.6,'normal','#333'),
  T('d',368,1183,40,'bold','#333'),
  T('Column O3 [DU]',417,749,49.6,'normal','#333'),
  T('Change in column O3 [DU]',1120,749,49.6,'normal','#333'),
  T('Tropics are below 200 DU for a period of 2 years. Large',779,1545,48,'bold','#000'),
  T('ozone depletions over the Arctic.',779,1598,48,'bold','#000')
 ],
 grid:G,
 xAxis:[hidden(-50,50,0),hidden(-50,50,1),mapX(2),mapX(3),barX(4,o3Levels,o3Ticks,v=>String(v)),barX(5,dLevels,dTicks,v=>String(v).replace('-','\u2212'))],
 yAxis:[hidden(-50,50,0),hidden(-50,50,1),mapY(2),mapY(3),hidden(0,1,4),hidden(0,1,5)],
 series:[
  bandSeries(0,aBands,o3Color,'round'),coastSeries(0,polar,1.1,'#000'),polarGrid(0),frameSeries(0,[-50,50,-50,50]),
  bandSeries(1,bBands,dColor,'round'),coastSeries(1,polar,1.1,'#000'),polarGrid(1),contourSeries(1,[b220TR,b220BR],b220Labels),frameSeries(1,[-50,50,-50,50]),
  bandSeries(2,cBands,o3Color,.3),coastSeries(2,plate,.9,'#111'),mapGrid(2),frameSeries(2,[0,360,-40,40]),
  bandSeries(3,dBands,dColor,0),coastSeries(3,plate,.8,'#222'),mapGrid(3),contourSeries(3,[d220North,d220North2,d220South,d220South2],d220Labels),frameSeries(3,[0,360,-40,40]),
  barSeries(4,o3Levels,o3Colors),frameSeries(4,[100,460,0,1]),
  barSeries(5,dLevels,dColors),frameSeries(5,[-200,40,0,1])
 ]
};
const chart=echarts.init(document.getElementById('c'),null,{renderer:'canvas'});
chart.setOption(option);
</script></body></html>
